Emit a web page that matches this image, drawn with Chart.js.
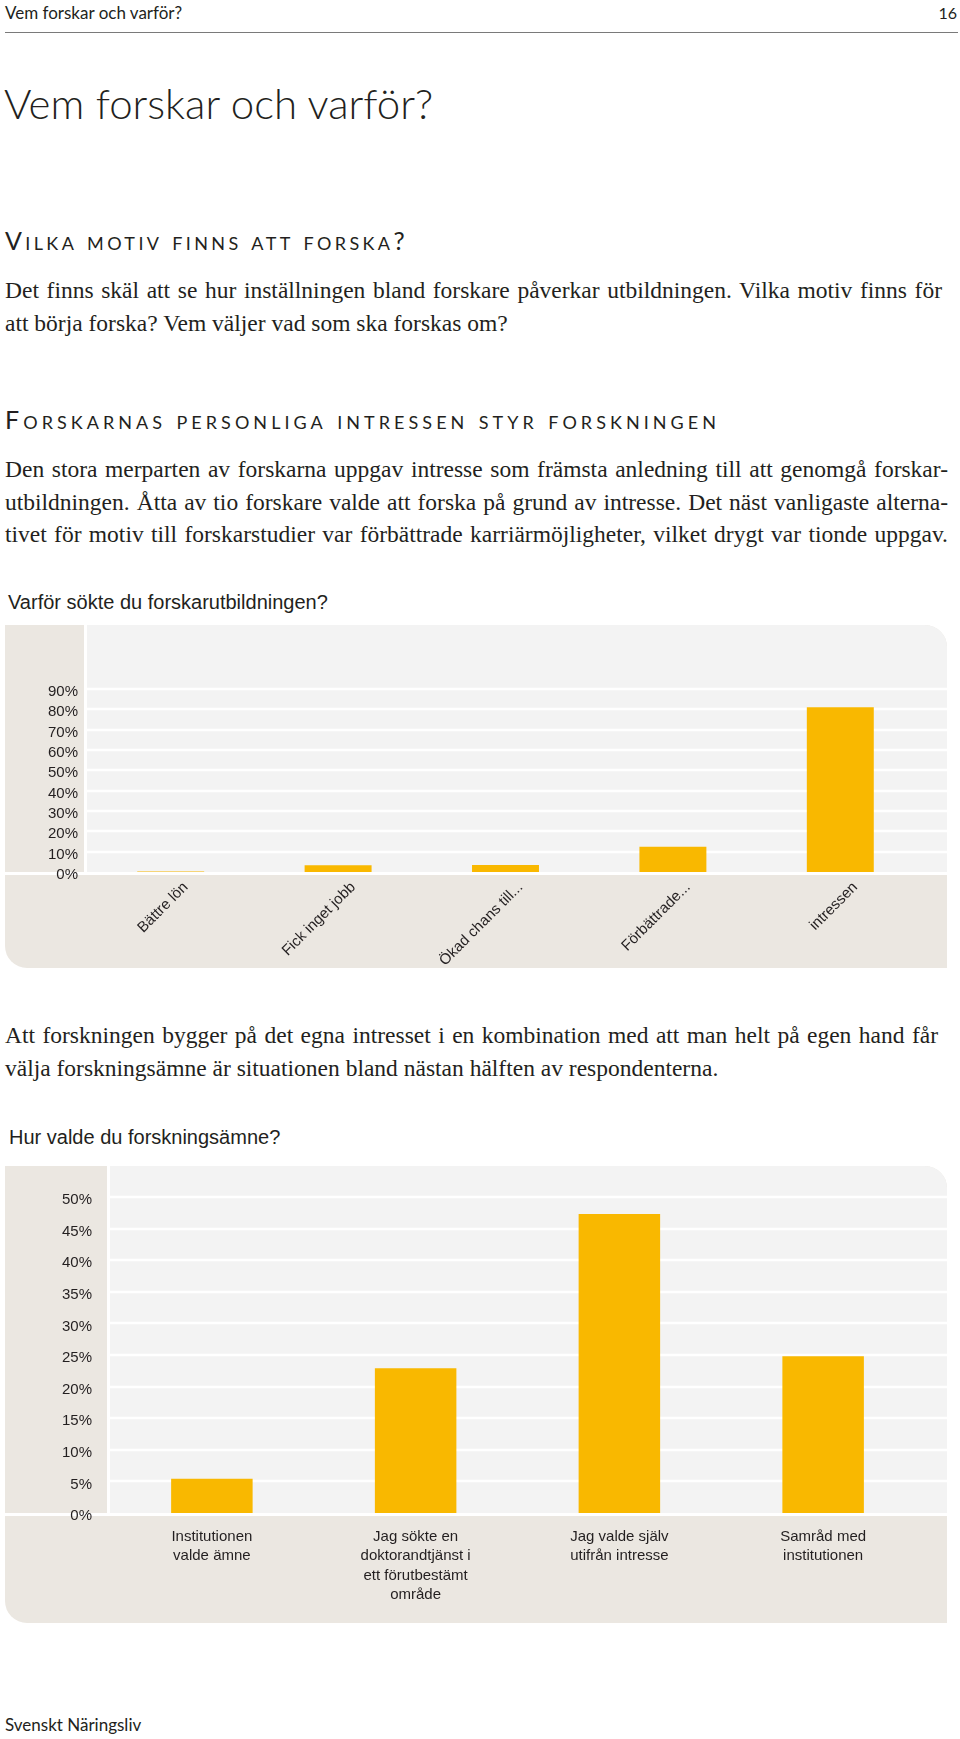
<!DOCTYPE html>
<html lang="sv">
<head>
<meta charset="utf-8">
<script src="https://cdn.jsdelivr.net/npm/chart.js@4"></script>
<style>
  html, body { margin: 0; padding: 0; background: #fff; }
  body { width: 960px; height: 1739px; position: relative; overflow: hidden; color: #231f20; }
  .abs { position: absolute; white-space: nowrap; }
  .gill { font-family: Lato, 'Open Sans', sans-serif; }
  .serif { font-family: 'Liberation Serif', 'DejaVu Serif', serif; font-size: 23.5px; line-height: 32.5px; }
  .j { display: inline-block; white-space: nowrap; }
  .caps { font-variant: small-caps; letter-spacing: 3.5px; font-size: 25px; line-height: 30px; }
  .ctitle { font-family: 'Liberation Sans', Arial, sans-serif; font-size: 20px; line-height: 22px; }
  canvas { position: absolute; left: 0; }
</style>
</head>
<body>
<div class="abs gill" style="left:5px; top:3px; font-size:17px; line-height:20px;">Vem forskar och varför?</div>
<div class="abs gill" style="right:3px; top:3px; font-size:16px; line-height:20px;">16</div>
<div class="abs" style="left:5px; top:32px; width:953px; height:0; border-top:1.5px solid #7a7a7a;"></div>

<div class="abs gill" style="left:4px; top:78px; font-size:42px; line-height:50px; font-weight:300;">Vem forskar och varför?</div>

<div class="abs gill caps fit" data-w="403" style="left:5px; top:225px;">Vilka motiv finns att forska?</div>
<div class="abs serif" style="left:5px; top:274px;">
  <div><span class="j" data-w="937">Det finns skäl att se hur inställningen bland forskare påverkar utbildningen. Vilka motiv finns för</span></div>
  <div>att börja forska? Vem väljer vad som ska forskas om?</div>
</div>

<div class="abs gill caps fit" data-w="715" style="left:5px; top:404px;">Forskarnas personliga intressen styr forskningen</div>
<div class="abs serif" style="left:5px; top:453px;">
  <div><span class="j" data-w="943">Den stora merparten av forskarna uppgav intresse som främsta anledning till att genomgå forskar-</span></div>
  <div><span class="j" data-w="943">utbildningen. Åtta av tio forskare valde att forska på grund av intresse. Det näst vanligaste alterna-</span></div>
  <div><span class="j" data-w="943">tivet för motiv till forskarstudier var förbättrade karriärmöjligheter, vilket drygt var tionde uppgav.</span></div>
</div>

<div class="abs ctitle" style="left:8px; top:591px;">Varför sökte du forskarutbildningen?</div>
<canvas id="chart1" style="top:620px;"></canvas>

<div class="abs serif" style="left:5px; top:1019px;">
  <div><span class="j" data-w="933">Att forskningen bygger på det egna intresset i en kombination med att man helt på egen hand får</span></div>
  <div>välja forskningsämne är situationen bland nästan hälften av respondenterna.</div>
</div>

<div class="abs ctitle" style="left:9px; top:1126px;">Hur valde du forskningsämne?</div>
<canvas id="chart2" style="top:1160px;"></canvas>

<div class="abs gill" style="left:5px; top:1714px; font-size:17px; line-height:22px;">Svenskt Näringsliv</div>

<script>
// Varför sökte du forskarutbildningen?
const motivLabels = ['Bättre lön', 'Fick inget jobb', 'Ökad chans till...', 'Förbättrade...', 'intressen'];
const motivValues = [0.3, 3.3, 3.5, 12.4, 81];
const motivTicks = [0, 10, 20, 30, 40, 50, 60, 70, 80, 90];

// Hur valde du forskningsämne?
const amneLabels = [
  ['Institutionen', 'valde ämne'],
  ['Jag sökte en', 'doktorandtjänst i', 'ett förutbestämt', 'område'],
  ['Jag valde själv', 'utifrån intresse'],
  ['Samråd med', 'institutionen']
];
const amneValues = [5.4, 22.9, 47.3, 24.8];
const amneTicks = [0, 5, 10, 15, 20, 25, 30, 35, 40, 45, 50];

const BAR = '#f9b800';
const BEIGE = '#ebe7e1';
const LIGHT = '#f3f3f3';
const INK = '#231f20';

// justified lines: spread the words out to the printed line width
document.querySelectorAll('.j').forEach(el => {
  const natural = el.getBoundingClientRect().width;
  const spaces = (el.textContent.match(/ /g) || []).length;
  el.style.wordSpacing = ((+el.dataset.w - natural) / spaces) + 'px';
});
// letter-spaced small caps headings
document.querySelectorAll('.fit').forEach(el => {
  const natural = el.getBoundingClientRect().width;
  const ls = parseFloat(getComputedStyle(el).letterSpacing);
  el.style.letterSpacing = (ls + (+el.dataset.w - natural) / el.textContent.length) + 'px';
});

// rounded panel behind each chart, top-right and bottom-left corners rounded
function roundRect(ctx, x, y, w, h, r) {
  ctx.beginPath();
  ctx.moveTo(x, y);
  ctx.lineTo(x + w - r.tr, y);
  ctx.arcTo(x + w, y, x + w, y + r.tr, r.tr);
  ctx.lineTo(x + w, y + h);
  ctx.lineTo(x + r.bl, y + h);
  ctx.arcTo(x, y + h, x, y + h - r.bl, r.bl);
  ctx.closePath();
}

const panelPlugin = {
  id: 'panel',
  beforeDraw(chart, args, opts) {
    const { ctx, chartArea, height } = chart;
    const left = 5, top = opts.top, right = 947, bottom = height - 7;
    ctx.save();
    ctx.fillStyle = BEIGE;
    roundRect(ctx, left, top, right - left, bottom - top, { tr: 22, bl: 22 });
    ctx.fill();
    ctx.fillStyle = LIGHT;
    roundRect(ctx, chartArea.left, top, right - chartArea.left, chartArea.bottom - top, { tr: 22, bl: 0 });
    ctx.fill();
    // white separators
    ctx.fillStyle = '#fff';
    ctx.fillRect(chartArea.left - 3, top, 3, chartArea.bottom - top);
    ctx.fillRect(left, chartArea.bottom, right - left, 3);
    // grid lines from the y scale, running out to the panel edge
    const y = chart.scales.y;
    ctx.strokeStyle = '#fff';
    ctx.lineWidth = 2.5;
    y.ticks.forEach(t => {
      if (t.value === y.min) return;
      const py = Math.round(y.getPixelForValue(t.value));
      ctx.beginPath();
      ctx.moveTo(chartArea.left, py);
      ctx.lineTo(right, py);
      ctx.stroke();
    });
    ctx.restore();
  }
};

Chart.defaults.font.family = "'Liberation Sans', Arial, sans-serif";
Chart.defaults.color = INK;
Chart.defaults.animation = false;

function makeChart(id, w, h, labels, values, ticks, cfg) {
  const canvas = document.getElementById(id);
  canvas.width = w;
  canvas.height = h;
  return new Chart(canvas, {
    type: 'bar',
    data: {
      labels: labels,
      datasets: [{
        data: values,
        backgroundColor: BAR,
        borderWidth: 0,
        barPercentage: 0.4,
        categoryPercentage: 1
      }]
    },
    plugins: [panelPlugin],
    options: {
      responsive: false,
      events: [],
      layout: { padding: { top: cfg.padTop, right: cfg.padRight, left: 0, bottom: 0 } },
      plugins: {
        legend: { display: false },
        tooltip: { enabled: false },
        panel: { top: cfg.panelTop }
      },
      scales: {
        x: {
          grid: { display: false, drawTicks: false },
          border: { display: false },
          afterFit: s => { s.height = cfg.xHeight; },
          ticks: {
            font: { size: cfg.xFont, lineHeight: 1.3 },
            color: INK,
            autoSkip: false,
            maxRotation: cfg.rotation,
            minRotation: cfg.rotation,
            padding: cfg.xPad,
            labelOffset: cfg.labelOffset
          }
        },
        y: {
          min: 0,
          max: ticks[ticks.length - 1],
          afterFit: s => { s.width = cfg.yWidth; },
          afterBuildTicks: s => { s.ticks = ticks.map(v => ({ value: v })); },
          grid: { display: false, drawTicks: false },
          border: { display: false },
          ticks: {
            autoSkip: false,
            font: { size: 15 },
            color: INK,
            padding: cfg.yPad,
            labelOffset: 3,
            callback: v => v + '%'
          }
        }
      }
    }
  });
}

makeChart('chart1', 960, 355, motivLabels, motivValues, motivTicks, {
  padTop: 69, padRight: 36, panelTop: 5, xHeight: 103, yWidth: 87, yPad: 9,
  xFont: 15, rotation: 45, xPad: 6, labelOffset: 15
});

makeChart('chart2', 960, 470, amneLabels, amneValues, amneTicks, {
  padTop: 37, padRight: 35, panelTop: 6, xHeight: 117, yWidth: 110, yPad: 18,
  xFont: 15, rotation: 0, xPad: 14, labelOffset: 0
});
</script>
</body>
</html>
